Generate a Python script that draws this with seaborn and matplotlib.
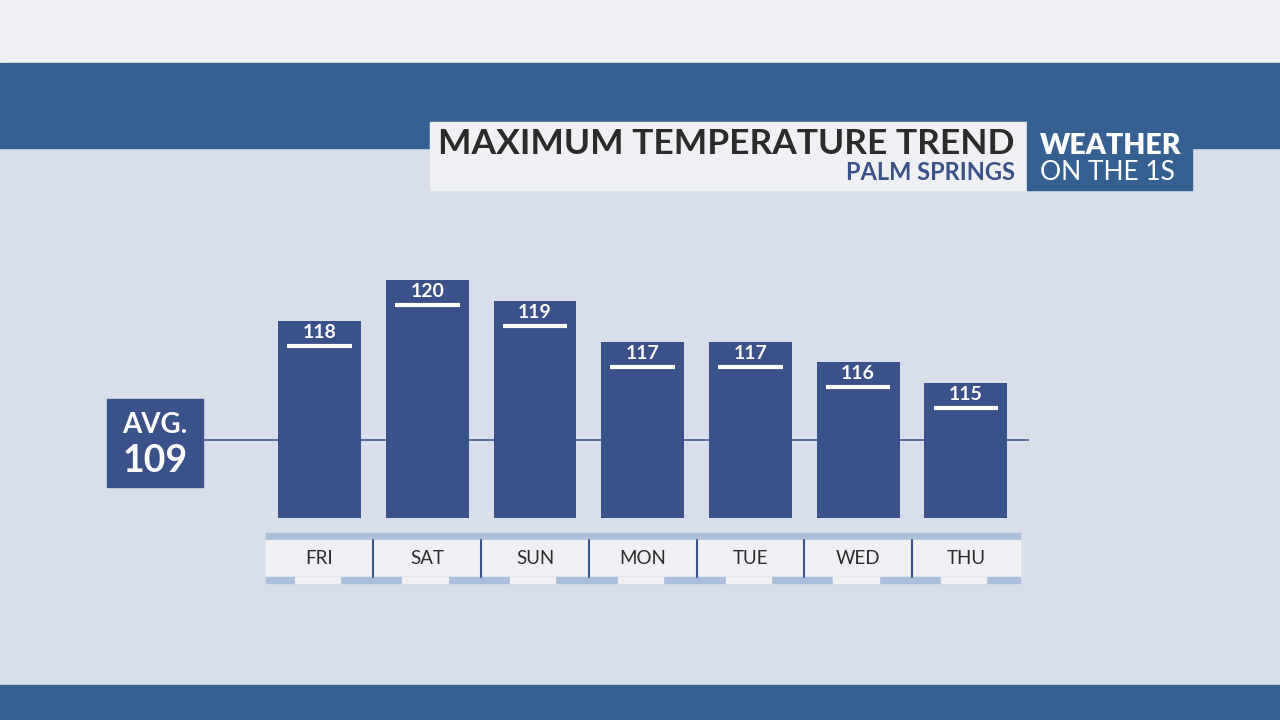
"""
Maximum temperature trend - Palm Springs (weather graphic)
"""

import matplotlib
matplotlib.use("Agg")
import matplotlib.pyplot as plt
import matplotlib.patches as mpatches
import seaborn as sns

# data
days = ["FRI", "SAT", "SUN", "MON", "TUE", "WED", "THU"]
temps = [118, 120, 119, 117, 117, 116, 115]
avg_temp = 109
avg_line_level = 112.2   # where the graphic draws the average line
title = "MAXIMUM TEMPERATURE TREND"
subtitle = "PALM SPRINGS"

# colours
PALE = "#eef0f3"
BAND = "#376092"
BG = "#d8dfea"
BAR = "#3a5189"
STRIP = "#a9bfdc"
DARK = "#2b2b2b"

sns.set_style("white")
plt.rcParams["font.family"] = ["Lato", "DejaVu Sans"]

fig = plt.figure(figsize=(12.8, 7.2), dpi=100)

# background layer in pixel coords
bg = fig.add_axes([0, 0, 1, 1])
bg.set_xlim(0, 1280)
bg.set_ylim(720, 0)
bg.axis("off")
bg.add_patch(mpatches.Rectangle((0, 0), 1280, 720, color=BG, zorder=0))
bg.add_patch(mpatches.Rectangle((0, 0), 1280, 63, color=PALE, zorder=1))
bg.add_patch(mpatches.Rectangle((0, 63), 1280, 85, color=BAND, zorder=1))
bg.add_patch(mpatches.Rectangle((0, 685), 1280, 35, color=BAND, zorder=1))

# title boxes
bg.add_patch(mpatches.Rectangle((430, 122), 597, 68, color=PALE, zorder=2))
bg.add_patch(mpatches.Rectangle((1027, 122), 165, 68, color=BAND, zorder=2))
bg.text(1015, 144, title, ha="right", va="center", fontsize=25.5,
        fontweight="bold", color=DARK, zorder=3)
bg.text(1015, 172, subtitle, ha="right", va="center", fontsize=17,
        fontweight="bold", color=BAR, zorder=3)
bg.text(1040, 146, "WEATHER", ha="left", va="center", fontsize=20.5,
        fontweight="heavy", color="white", zorder=3)
bg.text(1040, 172, "ON THE 1S", ha="left", va="center", fontsize=19,
        fontweight="normal", color="white", zorder=3)

# AVG box
bg.add_patch(mpatches.Rectangle((107, 399), 96, 88, color=BAR, zorder=2))
bg.text(155, 425, "AVG.", ha="center", va="center", fontsize=20,
        fontweight="bold", color="white", zorder=3)
bg.text(155, 461, str(avg_temp), ha="center", va="center", fontsize=27,
        fontweight="bold", color="white", zorder=3)

# bar chart
ax = fig.add_axes([265.7 / 1280, (720 - 518) / 720, 754 / 1280, 258 / 720])
ax.patch.set_alpha(0)
sns.barplot(x=days, y=temps, ax=ax, color=BAR, saturation=1, width=0.77,
            linewidth=0, zorder=3)
ax.set_xlim(-0.5, len(days) - 0.5)
ax.set_ylim(108.4, 121.0)
ax.hlines(avg_line_level, -1.08, len(days) - 0.41, color="#4d6594",
          lw=1.3, zorder=1, clip_on=False)

for i, t in enumerate(temps):
    ax.text(i, t - 0.55, str(t), ha="center", va="center", fontsize=14,
            fontweight="bold", color="white", zorder=5)
    ax.hlines(t - 1.22, i - 0.30, i + 0.30, color="white", lw=3, zorder=5)

# day strip under the bars
tr = ax.get_xaxis_transform()
n = len(days)
for y0, h, c in [(-0.085, 0.027, STRIP), (-0.2287, 0.1437, PALE),
                 (-0.252, 0.0233, STRIP)]:
    ax.add_patch(mpatches.Rectangle((-0.5, y0), n, h, color=c,
                                    transform=tr, clip_on=False, zorder=2))
for i, d in enumerate(days):
    ax.add_patch(mpatches.Rectangle((i - 0.23, -0.252), 0.42, 0.0233,
                                    color=PALE, transform=tr, clip_on=False,
                                    zorder=3))
    ax.text(i, -0.158, d, transform=tr, ha="center", va="center",
            fontsize=13.5, color=DARK, zorder=4)
    if i < n - 1:
        ax.plot([i + 0.5, i + 0.5], [-0.085, -0.2287], transform=tr,
                color=BAR, lw=1.5, clip_on=False, zorder=4)

ax.axis("off")

fig.savefig("out.png", dpi=100)
